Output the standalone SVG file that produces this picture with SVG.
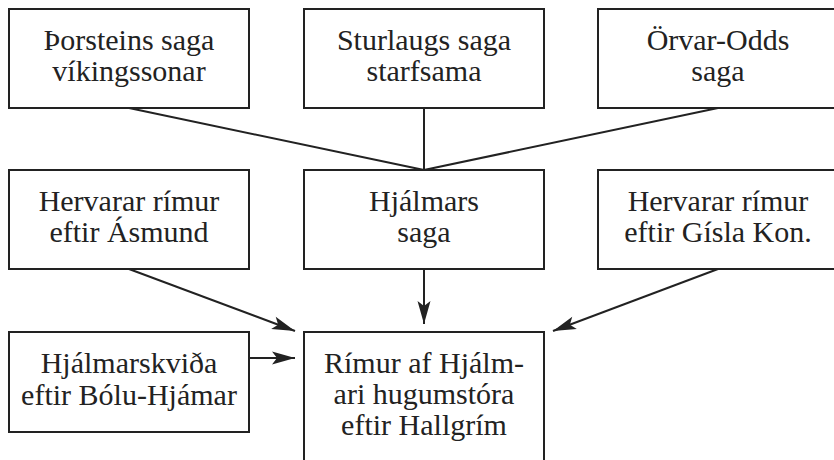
<svg xmlns="http://www.w3.org/2000/svg" width="834" height="460" viewBox="0 0 834 460">
<style>
.box{fill:#fff;stroke:#222;stroke-width:2}
text{font-family:'Liberation Serif','DejaVu Serif',serif;font-size:30px;fill:#222;text-anchor:middle}
.c{stroke:#222;stroke-width:2;fill:none}
.a{marker-end:url(#ah)}
</style>
<defs>
<marker id="ah" markerUnits="userSpaceOnUse" markerWidth="24" markerHeight="14" refX="23" refY="7" orient="auto" overflow="visible">
<path d="M0,0.5 L23,7 L0,13.5 L5,7 z" fill="#222"/>
</marker>
</defs>
<rect width="834" height="460" fill="#fff"/>
<g id="connectors">
<line class="c" x1="129" y1="108" x2="424" y2="170"/>
<line class="c" x1="424" y1="108" x2="424" y2="170"/>
<line class="c" x1="718" y1="108" x2="424" y2="170"/>
<line class="c a" x1="424" y1="269" x2="424" y2="324"/>
<line class="c a" x1="129" y1="269" x2="295" y2="331"/>
<line class="c a" x1="718" y1="269" x2="553" y2="331"/>
<line class="c a" x1="249" y1="358" x2="295" y2="358"/>
</g>
<g id="thorsteins">
<rect class="box" x="9" y="9" width="240" height="99"/>
<text x="129" y="50" font-family="Liberation Serif, serif">Þorsteins saga</text>
<text x="129" y="81" font-family="Liberation Serif, serif">víkingssonar</text>
</g>
<g id="sturlaugs">
<rect class="box" x="304" y="9" width="240" height="99"/>
<text x="424" y="50">Sturlaugs saga</text>
<text x="424" y="81">starfsama</text>
</g>
<g id="orvar">
<rect class="box" x="598" y="9" width="240" height="99"/>
<text x="718" y="50">Örvar-Odds</text>
<text x="718" y="81">saga</text>
</g>
<g id="hervarar-asmund">
<rect class="box" x="9" y="170" width="240" height="99"/>
<text x="129" y="211">Hervarar rímur</text>
<text x="129" y="242">eftir Ásmund</text>
</g>
<g id="hjalmars">
<rect class="box" x="304" y="170" width="240" height="99"/>
<text x="424" y="211">Hjálmars</text>
<text x="424" y="242">saga</text>
</g>
<g id="hervarar-gisla">
<rect class="box" x="598" y="170" width="240" height="99"/>
<text x="718" y="211">Hervarar rímur</text>
<text x="718" y="242">eftir Gísla Kon.</text>
</g>
<g id="hjalmarskvida">
<rect class="box" x="9" y="332" width="240" height="100"/>
<text x="129" y="373">Hjálmarskviða</text>
<text x="129" y="405">eftir Bólu-Hjámar</text>
</g>
<g id="rimur">
<rect class="box" x="304" y="332" width="240" height="140"/>
<text x="424" y="373">Rímur af Hjálm-</text>
<text x="424" y="404">ari hugumstóra</text>
<text x="424" y="435">eftir Hallgrím</text>
</g>
</svg>
